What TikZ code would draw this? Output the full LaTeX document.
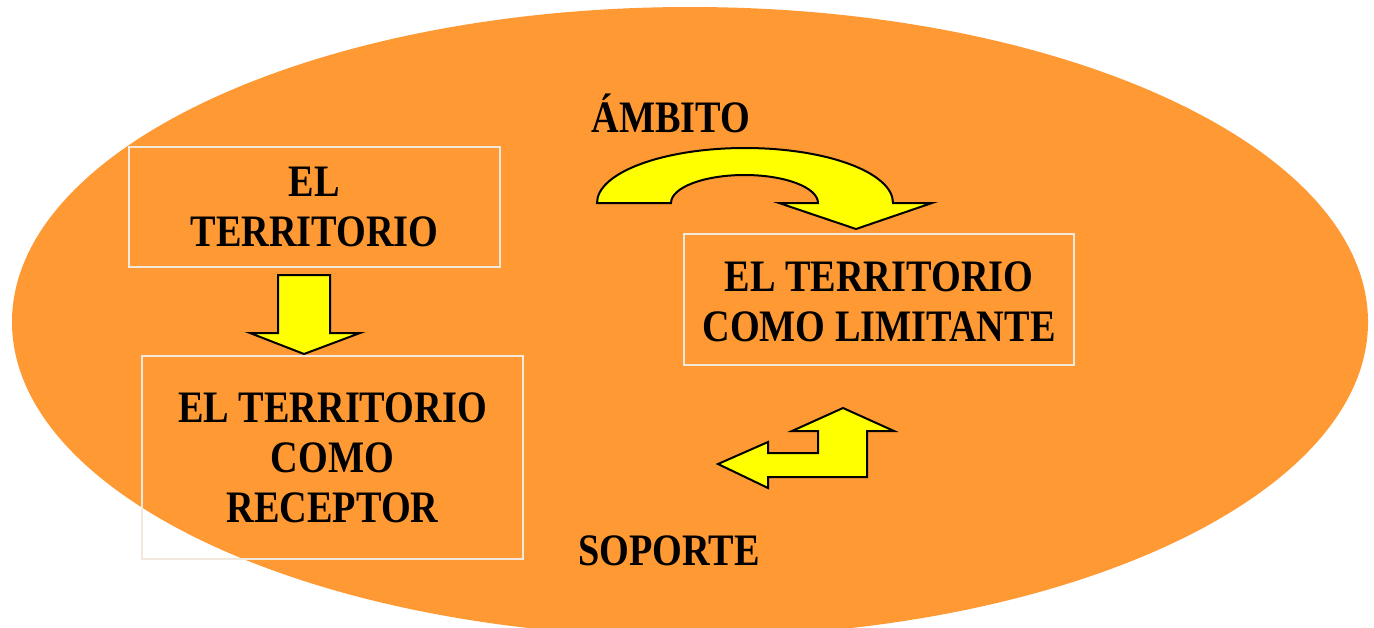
\documentclass[tikz,border=0pt]{standalone}
\usepackage{fontspec}
\newfontfamily\lblfont{Liberation Serif}[FakeStretch=0.85]
\definecolor{bgorange}{HTML}{FF9933}
\definecolor{arrowyellow}{HTML}{FFFF00}
\definecolor{boxline}{HTML}{F3E8DC}
\tikzset{
  lbl/.style={font=\lblfont\bfseries\fontsize{22.5pt}{25pt}\selectfont, text=black, align=center, inner sep=0pt},
  framebox/.style={draw=boxline, line width=1pt, inner sep=0pt},
  blockarrow/.style={fill=arrowyellow, draw=black, line width=1pt, line join=miter}
}
\begin{document}
\begin{tikzpicture}[x=0.5pt,y=-0.5pt]
\useasboundingbox (0,0) rectangle (1374,627);
% background ellipse
\fill[bgorange] (690,322) ellipse [x radius=678, y radius=315];

% boxes
\node[framebox, minimum width=185.5pt, minimum height=60pt] (b1) at (314.5,207) {};
\node[framebox, minimum width=190.5pt, minimum height=101.5pt] (b2) at (332.5,457.5) {};
\node[framebox, minimum width=195pt, minimum height=65.5pt] (b3) at (879,299.5) {};

\node[lbl] (t1) at (b1.center) {EL\\TERRITORIO};
\node[lbl] (t2) at (b2.center) {EL TERRITORIO\\COMO\\RECEPTOR};
\node[lbl] (t3) at ([yshift=-1pt]b3.center) {EL TERRITORIO\\COMO LIMITANTE};

\node[lbl, anchor=base] (ambito) at (671,132) {ÁMBITO};
\node[lbl, anchor=base] (soporte) at (669,565) {SOPORTE};

% down arrow between b1 and b2
\draw[blockarrow] (278,275) -- (330,275) -- (330,333) -- (360,333) -- (304,354)
  -- (250,333) -- (278,333) -- cycle;

% curved arrow (ambito)
\draw[blockarrow] (597,203) arc[start angle=180, end angle=360, x radius=148, y radius=55]
  -- (932,203) -- (856,229) -- (779,203) -- (818,203)
  arc[start angle=0, end angle=-180, x radius=73.5, y radius=28] -- cycle;

% bent arrow (soporte)
\draw[blockarrow] (718,464) -- (768,442) -- (768,453) -- (818,453) -- (818,431)
  -- (792,431) -- (843,408) -- (894,431) -- (867,431) -- (867,477)
  -- (768,477) -- (768,488) -- cycle;
\end{tikzpicture}
\end{document}
